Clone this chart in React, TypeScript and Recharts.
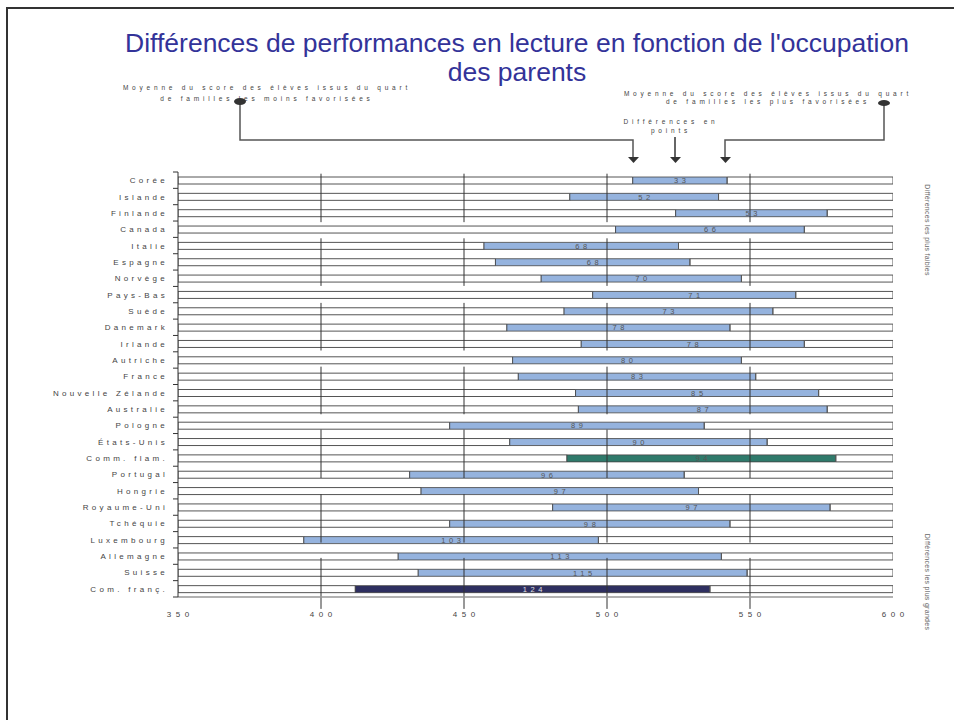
import React from 'react';
import { BarChart, Bar, XAxis, YAxis, ReferenceLine, LabelList, Cell } from 'recharts';

const COUNTRIES = [
  'Corée', 'Islande', 'Finlande', 'Canada', 'Italie', 'Espagne', 'Norvège', 'Pays-Bas',
  'Suède', 'Danemark', 'Irlande', 'Autriche', 'France', 'Nouvelle Zélande', 'Australie',
  'Pologne', 'États-Unis', 'Comm. flam.', 'Portugal', 'Hongrie', 'Royaume-Uni', 'Tchéquie',
  'Luxembourg', 'Allemagne', 'Suisse', 'Com. franç.',
];
// score moyen du quart le moins favorisé / le plus favorisé
const LOW = [509, 487, 524, 503, 457, 461, 477, 495, 485, 465, 491, 467, 469, 489, 490, 445, 466, 486, 431, 435, 481, 445, 394, 427, 434, 412];
const HIGH = [542, 539, 577, 569, 525, 529, 547, 566, 558, 543, 569, 547, 552, 574, 577, 534, 556, 580, 527, 532, 578, 543, 497, 540, 549, 536];
const DIFF = [33, 52, 53, 66, 68, 68, 70, 71, 73, 78, 78, 80, 83, 85, 87, 89, 90, 94, 96, 97, 97, 98, 103, 113, 115, 124];
const X_TICKS = [350, 400, 450, 500, 550, 600];
const GRID_VALUES = [400, 450, 500, 550];
// vertical gridlines are drawn in pieces (row units)
const GRID_SEGMENTS = [[-0.7, 2.3], [3.2, 6.05], [7, 9.85], [10.75, 13.55], [14.5, 17.3], [18.3, 21.1], [22.05, 24.9]];

const BLUE = '#95b3de';
const HIGHLIGHT: Record<string, string> = { 'Comm. flam.': '#2f7a6b', 'Com. franç.': '#2e2f60' };

const FONT = '"Liberation Sans", Arial, sans-serif';
const PLOT_H = 425;
const ROW = PLOT_H / COUNTRIES.length;

const data = COUNTRIES.map((name, i) => ({
  name,
  low: LOW[i],
  span: HIGH[i] - LOW[i],
  rest: 600 - HIGH[i],
  diff: DIFF[i],
  color: HIGHLIGHT[name] || BLUE,
}));

const CountryTick = ({ x, y, payload, index }: any) => (
  <g>
    <text x={x} y={y} dy={3} textAnchor="end" fontSize={8} letterSpacing={3.3} fill="#444" fontFamily={FONT}>
      {payload.value}
    </text>
    <line x1={x + 5} x2={x + 10} y1={y + ROW / 2} y2={y + ROW / 2} stroke="#333" />
    {index === 0 && <line x1={x + 5} x2={x + 10} y1={y - ROW / 2} y2={y - ROW / 2} stroke="#333" />}
  </g>
);

const ScoreTick = ({ x, y, payload }: any) => (
  <text x={x} y={y} dy={8} dx={2.2} textAnchor="middle" fontSize={8} letterSpacing={4.5} fill="#444" fontFamily={FONT}>
    {payload.value}
  </text>
);

const DiffLabel = ({ x, y, width, height, value, index }: any) => {
  const light = COUNTRIES[index] === 'Com. franç.';
  return (
    <text
      x={x + width / 2 + 1.8}
      y={y + height / 2}
      dy={2.8}
      textAnchor="middle"
      fontSize={7.5}
      letterSpacing={3.6}
      fill={light ? '#e0e0e0' : '#555'}
      fontFamily={FONT}
    >
      {value}
    </text>
  );
};

const smallText = { fontSize: 6.5, letterSpacing: 3.8, fill: '#444', fontFamily: FONT };

const Annotations = () => (
  <svg width={954} height={720} style={{ position: 'absolute', left: 0, top: 0, pointerEvents: 'none' }}>
    <text x={267} y={90} textAnchor="middle" {...smallText}>Moyenne du score des élèves issus du quart</text>
    <text x={267} y={101} textAnchor="middle" {...smallText}>de familles les moins favorisées</text>
    <text x={768} y={96} textAnchor="middle" {...smallText}>Moyenne du score des élèves issus du quart</text>
    <text x={768} y={104} textAnchor="middle" {...smallText}>de familles les plus favorisées</text>
    <text x={671} y={124} textAnchor="middle" {...smallText}>Différences en</text>
    <text x={671} y={133} textAnchor="middle" {...smallText}>points</text>

    <polyline points="240,102 240,140 633,140 633,157" fill="none" stroke="#555" strokeWidth={1.5} />
    <polyline points="884,103 884,140 725,140 725,157" fill="none" stroke="#555" strokeWidth={1.5} />
    <line x1={675} x2={675} y1={137} y2={157} stroke="#333" strokeWidth={1.5} />
    <ellipse cx={240} cy={101.5} rx={6} ry={3.5} fill="#333" />
    <ellipse cx={884} cy={103} rx={6} ry={3} fill="#333" />
    <polygon points="628,157 639,157 633.5,163" fill="#333" />
    <polygon points="670,157 681,157 675.5,163" fill="#333" />
    <polygon points="720,157 731,157 725.5,163" fill="#333" />

    <text transform="translate(925,230) rotate(90)" textAnchor="middle" fontSize={7} letterSpacing={0.3} fill="#666" fontFamily={FONT}>
      Différences les plus faibles
    </text>
    <text transform="translate(925,582) rotate(90)" textAnchor="middle" fontSize={7} letterSpacing={0.3} fill="#666" fontFamily={FONT}>
      Différences les plus grandes
    </text>
  </svg>
);

export default function App() {
  return (
    <div style={{ position: 'absolute', left: 0, top: 0, width: 954, height: 720, background: '#fff', overflow: 'hidden', fontFamily: FONT }}>
      <div style={{ position: 'absolute', left: 6, top: 7, width: 960, height: 720, borderLeft: '2px solid #333', borderTop: '2px solid #333' }} />
      <div
        style={{
          position: 'absolute', left: 60, top: 29, width: 914, textAlign: 'center',
          fontSize: 26.5, lineHeight: '29px', color: '#333399',
        }}
      >
        Différences de performances en lecture en fonction de l'occupation
        <br />
        des parents
      </div>
      <div style={{ position: 'absolute', left: 0, top: 0 }}>
        <BarChart
          width={954}
          height={720}
          data={data}
          layout="vertical"
          margin={{ top: 172, right: 61, bottom: 93, left: 8 }}
          barSize={7}
        >
          <XAxis
            type="number"
            domain={[350, 600]}
            ticks={X_TICKS}
            allowDataOverflow
            height={30}
            tickSize={0}
            tickMargin={12}
            tickLine={false}
            axisLine={{ stroke: '#999', strokeWidth: 1.5 }}
            tick={<ScoreTick />}
          />
          <XAxis
            xAxisId="top"
            orientation="top"
            type="number"
            domain={[350, 600]}
            allowDataOverflow
            height={0}
            tick={false}
            tickLine={false}
            axisLine={{ stroke: '#999', strokeWidth: 1.5 }}
          />
          <YAxis
            type="category"
            dataKey="name"
            width={170}
            tickSize={0}
            tickMargin={10}
            tickLine={false}
            interval={0}
            axisLine={{ stroke: '#333' }}
            tick={<CountryTick />}
          />
          <YAxis
            yAxisId="rows"
            orientation="right"
            type="number"
            domain={[-0.5, 25.5]}
            reversed
            allowDataOverflow
            width={0}
            tick={false}
            tickLine={false}
            axisLine={{ stroke: '#999', strokeWidth: 1.5 }}
          />
          {GRID_VALUES.map((v) =>
            GRID_SEGMENTS.map((s, j) => (
              <ReferenceLine
                key={`g-${v}-${j}`}
                yAxisId="rows"
                ifOverflow="visible"
                segment={[{ x: v, y: s[0] }, { x: v, y: s[1] }]}
                stroke="#333"
                strokeWidth={1}
              />
            ))
          )}
          <Bar dataKey="low" stackId="s" fill="none" stroke="#555" strokeWidth={1} isAnimationActive={false} />
          <Bar dataKey="span" stackId="s" stroke="#444" strokeWidth={0.8} isAnimationActive={false}>
            {data.map((d) => (
              <Cell key={d.name} fill={d.color} />
            ))}
            <LabelList dataKey="diff" content={<DiffLabel />} />
          </Bar>
          <Bar dataKey="rest" stackId="s" fill="none" stroke="#555" strokeWidth={1} isAnimationActive={false} />
        </BarChart>
      </div>
      <Annotations />
    </div>
  );
}
